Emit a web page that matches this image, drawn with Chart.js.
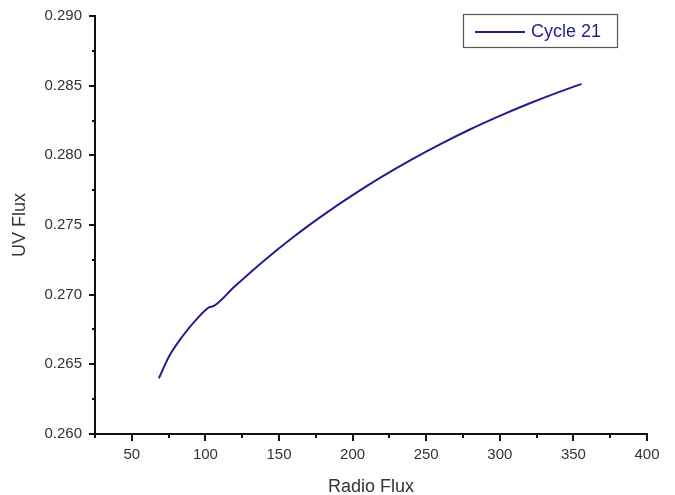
<!DOCTYPE html>
<html>
<head>
<meta charset="utf-8">
<script src="https://cdn.jsdelivr.net/npm/chart.js@4.4.0/dist/chart.umd.min.js"></script>
<style>
  html, body { margin: 0; padding: 0; background: #fff; }
  #wrap { width: 675px; height: 495px; position: relative; }
</style>
</head>
<body>
<div id="wrap"><canvas id="c" width="675" height="495"></canvas></div>
<script>
// ---- data ----
const seriesLabel = "Cycle 21";
const radioFlux = [68.4, 75.2, 84.2, 95.6, 102.4, 105.8, 120, 140, 160, 180, 200, 220, 240, 260, 280, 300, 320, 340, 355.5];
const uvFlux    = [0.26400, 0.26555, 0.26698, 0.26842, 0.26909, 0.26919, 0.27060, 0.27246, 0.27416, 0.27571, 0.27714, 0.27847, 0.27969, 0.28082, 0.28187, 0.28283, 0.28372, 0.28454, 0.28513];
const xTicks = [50, 100, 150, 200, 250, 300, 350, 400];
const yTicks = [0.260, 0.265, 0.270, 0.275, 0.280, 0.285, 0.290];
const xTitle = "Radio Flux";
const yTitle = "UV Flux";

const lineColor = "#1f1f8f";
const FONT = "'Liberation Sans', Arial, sans-serif";

const minorTicks = {
  id: 'minorTicks',
  afterDraw(chart) {
    const ctx = chart.ctx;
    const xs = chart.scales.x, ys = chart.scales.y;
    ctx.save();
    ctx.strokeStyle = '#111';
    ctx.lineWidth = 2;
    ctx.beginPath();
    for (let i = 0; i < xTicks.length; i++) {
      const v = xTicks[i] - 25;
      if (v < xs.min) continue;
      const px = Math.round(xs.getPixelForValue(v));
      ctx.moveTo(px, xs.top); ctx.lineTo(px, xs.top + 4);
    }
    for (let i = 1; i < yTicks.length; i++) {
      const v = (yTicks[i] + yTicks[i-1]) / 2;
      const py = Math.round(ys.getPixelForValue(v));
      ctx.moveTo(ys.right, py); ctx.lineTo(ys.right - 3, py);
    }
    ctx.stroke();
    ctx.restore();
  }
};

const boxLegend = {
  id: 'boxLegend',
  afterDraw(chart) {
    const ctx = chart.ctx;
    const ds = chart.data.datasets[0];
    ctx.save();
    ctx.strokeStyle = '#555';
    ctx.lineWidth = 1.2;
    ctx.strokeRect(463.5, 14.5, 154, 33);
    ctx.strokeStyle = ds.borderColor;
    ctx.lineWidth = 2;
    ctx.beginPath();
    ctx.moveTo(475, 32); ctx.lineTo(525, 32);
    ctx.stroke();
    ctx.fillStyle = '#1f1f8f';
    ctx.font = "18px " + FONT;
    ctx.textBaseline = 'middle';
    ctx.textAlign = 'left';
    ctx.fillText(ds.label, 531, 32);
    ctx.restore();
  }
};

new Chart(document.getElementById('c'), {
  type: 'scatter',
  data: {
    datasets: [{
      label: seriesLabel,
      data: radioFlux.map((x, i) => ({ x: x, y: uvFlux[i] })),
      showLine: true,
      borderColor: lineColor,
      borderWidth: 2,
      pointRadius: 0,
      cubicInterpolationMode: 'monotone',
      fill: false
    }]
  },
  options: {
    responsive: false,
    animation: false,
    events: [],
    layout: { padding: { left: 0, right: 28, top: 16, bottom: 0 } },
    plugins: { legend: { display: false }, tooltip: { enabled: false } },
    scales: {
      x: {
        type: 'linear',
        min: 25, max: 400,
        afterBuildTicks: s => { s.ticks = xTicks.map(v => ({ value: v })); },
        afterFit: s => { s.height = 61; },
        border: { display: true, color: '#111', width: 2 },
        grid: { display: true, drawOnChartArea: false, drawTicks: true, tickLength: 7, color: '#111', lineWidth: 2 },
        ticks: { color: '#333', font: { family: FONT, size: 15 }, padding: 5, maxRotation: 0 },
        title: { display: true, text: xTitle, color: '#333', font: { family: FONT, size: 18 }, padding: { top: 4, bottom: -3 } }
      },
      y: {
        type: 'linear',
        min: 0.260, max: 0.290,
        afterBuildTicks: s => { s.ticks = yTicks.map(v => ({ value: v })); },
        afterFit: s => { s.width = 95; },
        border: { display: true, color: '#111', width: 2 },
        grid: { display: true, drawOnChartArea: false, drawTicks: true, tickLength: 6, color: '#111', lineWidth: 2 },
        ticks: { color: '#333', font: { family: FONT, size: 15 }, padding: 7, callback: v => v.toFixed(3) },
        title: { display: true, text: yTitle, color: '#333', font: { family: FONT, size: 18 }, padding: { top: 9, bottom: 4 } }
      }
    }
  },
  plugins: [minorTicks, boxLegend]
});
</script>
</body>
</html>
